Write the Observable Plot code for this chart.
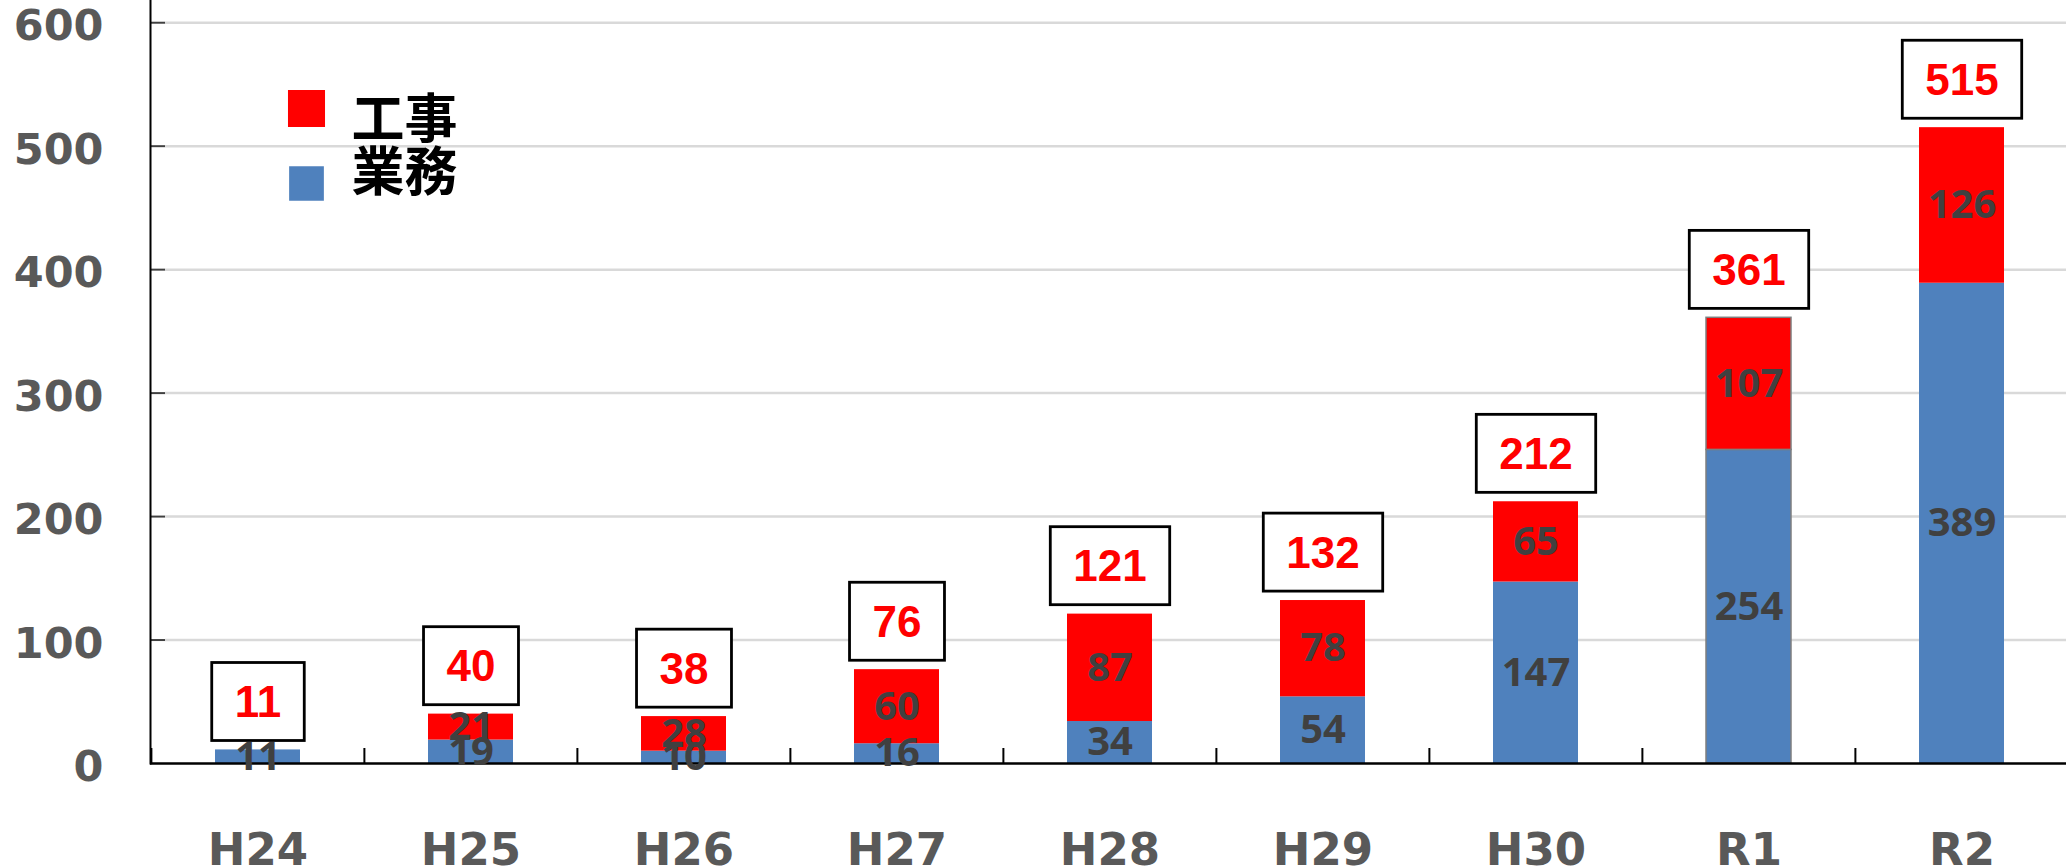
<!DOCTYPE html>
<html>
<head>
<meta charset="utf-8">
<script src="https://cdn.jsdelivr.net/npm/d3@7"></script>
<script src="https://cdn.jsdelivr.net/npm/@observablehq/plot@0.6"></script>
<style>
  html, body { margin: 0; padding: 0; background: #fff; }
  #chart { width: 2066px; height: 867px; overflow: hidden; }
</style>
</head>
<body>
<div id="chart"></div>
<script>
// ---- data ----
const categories = ["H24", "H25", "H26", "H27", "H28", "H29", "H30", "R1", "R2"];
const gyomu = [11, 19, 10, 16, 34, 54, 147, 254, 389];   // 業務 (blue)
const koji  = [0, 21, 28, 60, 87, 78, 65, 107, 126];     // 工事 (red)
const totals = [11, 40, 38, 76, 121, 132, 212, 361, 515];
const seriesNames = ["工事", "業務"];
const seriesColors = ["#ff0000", "#4f81bd"];
const yTicks = [0, 100, 200, 300, 400, 500, 600];

const rows = categories.flatMap((c, i) => [
  {cat: c, series: "業務", value: gyomu[i]},
  {cat: c, series: "工事", value: koji[i]}
]);
const totalRows = categories.map((c, i) => ({cat: c, total: totals[i]}));
const stackOrder = ["業務", "工事"];

const W = 2066, H = 867, ML = 150, MB = 104;
const XR = [150, 2069];
const step = (XR[1] - XR[0]) / categories.length;

const chart = Plot.plot({
  width: W,
  height: H,
  marginLeft: ML,
  marginRight: 0,
  marginTop: 0,
  marginBottom: MB,
  style: {background: "#fff"},
  x: {domain: categories, range: XR, paddingInner: 0.6, paddingOuter: 0.3, label: null},
  y: {domain: [0, 618], label: null},
  color: {domain: seriesNames, range: seriesColors},
  marks: [
    // gridlines
    Plot.ruleY(yTicks.filter(d => d > 0), {stroke: "#d9d9d9", strokeWidth: 2.5, insetLeft: 15}),
    // inward y ticks
    Plot.ruleY(yTicks.filter(d => d > 0), {stroke: "#404040", strokeWidth: 2, insetRight: W - ML - 15}),
    // stacked bars
    Plot.barY(rows, Plot.stackY({
      x: "cat", y: "value", fill: "series", z: "series", order: stackOrder,
      stroke: d => d.cat === "R1" ? "#7f7f7f" : "none", strokeWidth: 1.5
    })),
    // axis lines
    Plot.frame({anchor: "left", stroke: "#000", strokeWidth: 2}),
    Plot.ruleY([0], {stroke: "#000", strokeWidth: 2.5}),
    // category boundary ticks
    Plot.ruleX(categories, {x: d => d, dx: -step / 2, insetTop: H - MB - 15, stroke: "#000", strokeWidth: 2}),
    // segment labels
    Plot.text(rows.filter(d => d.value > 0), Plot.stackY({
      x: "cat", y: "value", z: "series", order: stackOrder, text: "value",
      fill: "#404040", fontSize: 40, fontWeight: "bold", fontFamily: "Open Sans"
    })),
    // total labels (boxes added after render)
    Plot.text(totalRows, {
      x: "cat", y: "total", text: "total", dy: -47,
      fill: "#ff0000", fontSize: 44, fontWeight: "bold", fontFamily: "Liberation Sans",
      className: "totals"
    }),
    // axes
    Plot.axisY({
      ticks: yTicks, tickSize: 0, tickPadding: 47, tickFormat: d => String(d),
      fontSize: 43, fontWeight: "bold", fontFamily: "DejaVu Sans", color: "#595959", dy: 4, label: null
    }),
    Plot.axisX({
      tickSize: 0, tickPadding: 70,
      fontSize: 45, fontWeight: "bold", fontFamily: "DejaVu Sans", color: "#595959", label: null
    }),
    // legend (inside plot)
    ...seriesNames.map((s, i) => Plot.dot([s], {
      frameAnchor: "top-left", dx: 306 - ML, dy: [108, 183][i],
      symbol: "square", r: [20.9, 19.6][i], fill: d => d, stroke: "none"
    })),
    ...seriesNames.map((s, i) => Plot.text([s], {
      frameAnchor: "top-left", dx: 351 - ML, dy: [100, 153][i],
      text: d => d, textAnchor: "start", fill: "#000",
      fontSize: 53, fontWeight: "bold", fontFamily: "Noto Sans CJK JP"
    }))
  ]
});

document.getElementById("chart").appendChild(chart);

// draw white boxes with black border around total labels
const svgNS = "http://www.w3.org/2000/svg";
d3.select(chart).selectAll("g.totals text").each(function() {
  const bb = this.getBBox();
  const cy = bb.y + bb.height / 2;
  const rect = document.createElementNS(svgNS, "rect");
  rect.setAttribute("x", bb.x - 23);
  rect.setAttribute("width", bb.width + 46);
  rect.setAttribute("y", cy - 39);
  rect.setAttribute("height", 78);
  rect.setAttribute("fill", "#fff");
  rect.setAttribute("stroke", "#000");
  rect.setAttribute("stroke-width", 2.8);
  if (this.getAttribute("transform")) rect.setAttribute("transform", this.getAttribute("transform"));
  this.parentNode.insertBefore(rect, this);
});
</script>
</body>
</html>
